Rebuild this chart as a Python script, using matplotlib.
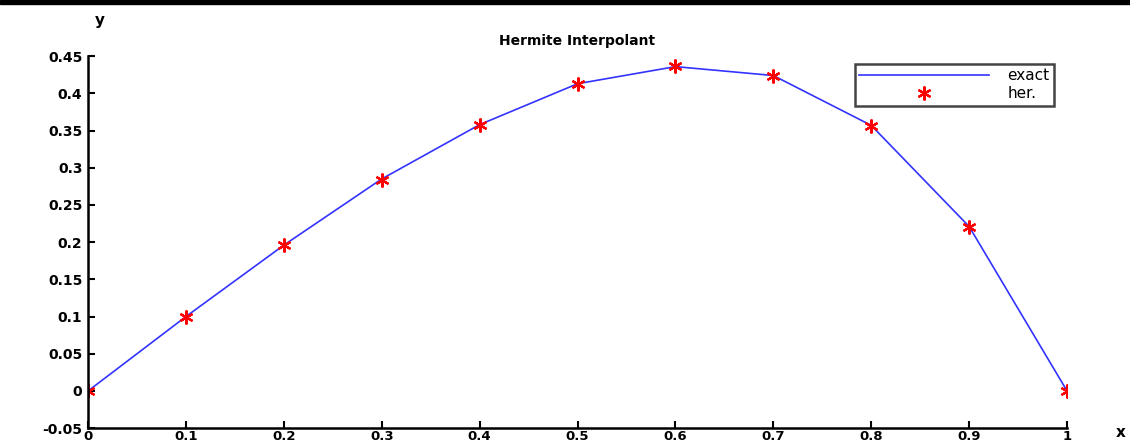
import numpy as np
from matplotlib import pyplot as plt
from matplotlib.patches import Rectangle

# Values
x_nodes = [0.0, 0.1, 0.2, 0.3, 0.4, 0.5, 0.6, 0.7, 0.8, 0.9, 1.0]
y_exact = [0.0, 0.100, 0.196, 0.285, 0.358, 0.413, 0.436, 0.424, 0.357, 0.221, 0.0]
y_her = [0.0, 0.100, 0.196, 0.284, 0.358, 0.413, 0.437, 0.423, 0.356, 0.221, 0.0]

xticks = [0, 0.1, 0.2, 0.3, 0.4, 0.5, 0.6, 0.7, 0.8, 0.9, 1]
xtick_labels = ["0", "0.1", "0.2", "0.3", "0.4", "0.5", "0.6", "0.7", "0.8", "0.9", "1"]
yticks = [-0.05, 0, 0.05, 0.1, 0.15, 0.2, 0.25, 0.3, 0.35, 0.4, 0.45]
ytick_labels = ["-0.05", "0", "0.05", "0.1", "0.15", "0.2", "0.25", "0.3", "0.35", "0.4", "0.45"]

fig = plt.figure(figsize=(11.3, 4.46), dpi=100)
ax = fig.add_axes([0.0779, 0.040, 0.8664, 0.834])

# black band along the top edge
fig.patches.append(Rectangle((0, 0.99), 1, 0.01, transform=fig.transFigure,
                             color="black", zorder=0))

ax.plot(x_nodes, y_exact, color="#3333ff", lw=1.2, label="exact")
ax.plot(x_nodes, y_her, ls="none", marker=(6, 2, 0), ms=10, color="red",
        markeredgewidth=1.6, label="her.")

ax.set_xlim(0, 1)
ax.set_ylim(-0.05, 0.45)
ax.set_xticks(xticks)
ax.set_xticklabels(xtick_labels, fontsize=9.5, fontweight="bold")
ax.set_yticks(yticks)
ax.set_yticklabels(ytick_labels, fontsize=10, fontweight="bold")
ax.tick_params(direction="in", length=5, width=1.5, pad=4)
ax.tick_params(axis="x", pad=1.5)

ax.spines["top"].set_visible(False)
ax.spines["right"].set_visible(False)
ax.spines["left"].set_linewidth(1.8)
ax.spines["bottom"].set_linewidth(1.8)

ax.set_title("Hermite Interpolant", fontsize=10, fontweight="bold", pad=8)
fig.text(0.088, 0.955, "y", fontsize=11, fontweight="bold", ha="center", va="center")
fig.text(0.992, 0.03, "x", fontsize=11, fontweight="bold", ha="center", va="center")

leg = ax.legend(loc="upper right", bbox_to_anchor=(0.987, 0.98), fontsize=11,
                fancybox=False, framealpha=1, borderpad=0.3, handlelength=8.5,
                handletextpad=1.2, labelspacing=0.2, borderaxespad=0)
leg.get_frame().set_edgecolor("#444444")
leg.get_frame().set_linewidth(1.8)

plt.savefig("out.png", dpi=100)
plt.close()
